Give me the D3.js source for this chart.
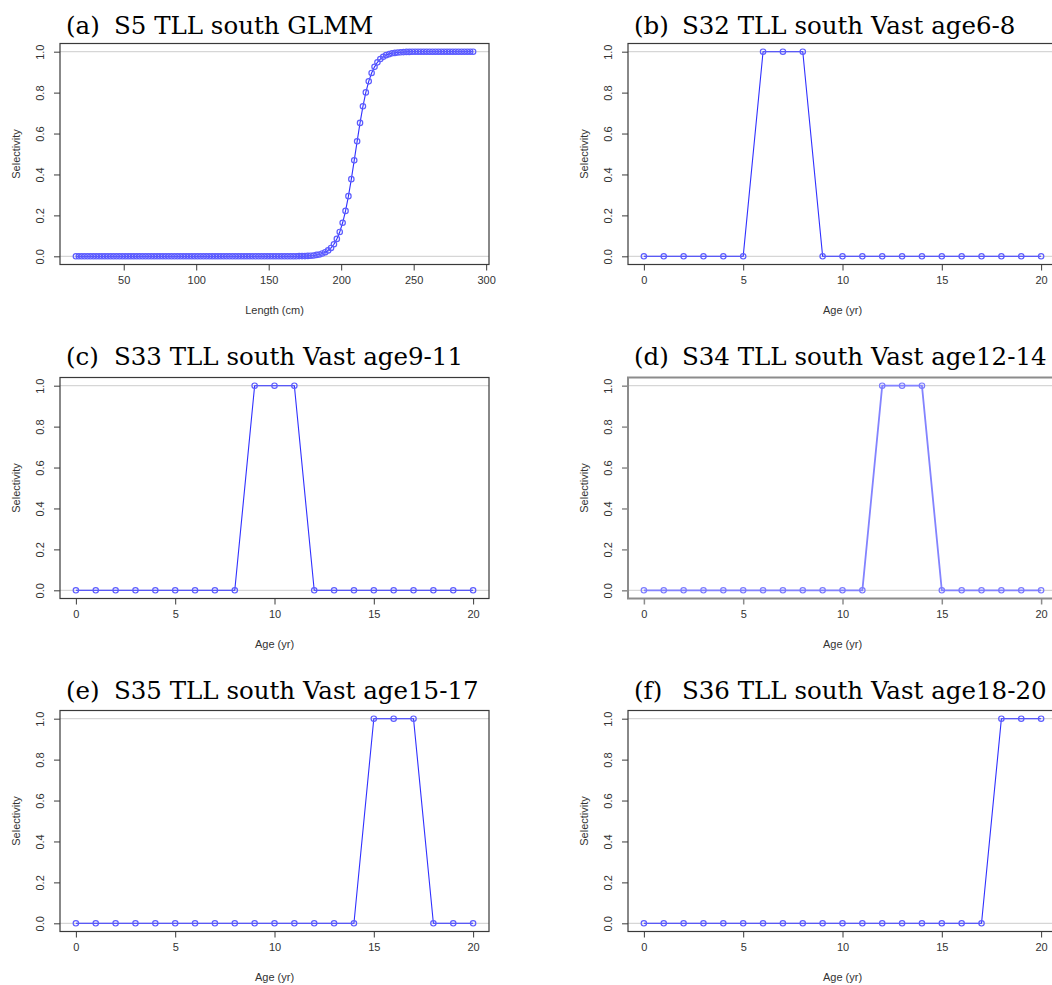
<html lang="en">

<head>
  <meta http-equiv="Content-Type" content="text/html; charset=utf-8" />
  <script src="https://d3js.org/d3.v7.min.js"></script>
  <style>
    body { margin: 0; background: #fff; }
    svg { display: block; }
  </style>
</head>

<body>
  <div id="divId"></div>

  <script>
    // ---------------- data ----------------
    // panel (a): length classes (cm) and GLMM selectivity
    const lengths = [
      17, 19, 21, 23, 25, 27, 29, 31, 33, 35, 37, 39, 41, 43, 45, 47, 49, 51, 53, 55,
      57, 59, 61, 63, 65, 67, 69, 71, 73, 75, 77, 79, 81, 83, 85, 87, 89, 91, 93, 95,
      97, 99, 101, 103, 105, 107, 109, 111, 113, 115, 117, 119, 121, 123, 125, 127, 129, 131, 133, 135,
      137, 139, 141, 143, 145, 147, 149, 151, 153, 155, 157, 159, 161, 163, 165, 167, 169, 171, 173, 175,
      177, 179, 181, 183, 185, 187, 189, 191, 193, 195, 197, 199, 201, 203, 205, 207, 209, 211, 213, 215,
      217, 219, 221, 223, 225, 227, 229, 231, 233, 235, 237, 239, 241, 243, 245, 247, 249, 251, 253, 255,
      257, 259, 261, 263, 265, 267, 269, 271, 273, 275, 277, 279, 281, 283, 285, 287, 289, 291
    ];
    const selS5 = [
      0, 0, 0, 0, 0, 0, 0, 0, 0, 0, 0, 0, 0, 0, 0, 0, 0, 0, 0, 0,
      0, 0, 0, 0, 0, 0, 0, 0, 0, 0, 0, 0, 0, 0, 0, 0, 0, 0, 0, 0,
      0, 0, 0, 0, 0, 0, 0, 0, 0, 0, 0, 0, 0, 0, 0, 0, 0, 0, 0, 0,
      0, 0, 0, 0, 0, 0, 0, 0, 0, 0, 0, 0, 0, 0, 0, 0, 0, 0.001, 0.001, 0.001,
      0.002, 0.003, 0.004, 0.007, 0.009, 0.014, 0.020, 0.029, 0.041, 0.059, 0.085, 0.119, 0.164, 0.222, 0.294, 0.377, 0.469, 0.562, 0.652, 0.733,
      0.801, 0.855, 0.896, 0.926, 0.948, 0.964, 0.975, 0.983, 0.988, 0.992, 0.994, 0.996, 0.997, 0.998, 0.999, 0.999, 1, 1, 1, 1,
      1, 1, 1, 1, 1, 1, 1, 1, 1, 1, 1, 1, 1, 1, 1, 1, 1, 1
    ];

    // panels (b)-(f): ages (yr) and VAST selectivity
    const ages = [0, 1, 2, 3, 4, 5, 6, 7, 8, 9, 10, 11, 12, 13, 14, 15, 16, 17, 18, 19, 20];
    const selS32 = [0, 0, 0, 0, 0, 0, 1, 1, 1, 0, 0, 0, 0, 0, 0, 0, 0, 0, 0, 0, 0];
    const selS33 = [0, 0, 0, 0, 0, 0, 0, 0, 0, 1, 1, 1, 0, 0, 0, 0, 0, 0, 0, 0, 0];
    const selS34 = [0, 0, 0, 0, 0, 0, 0, 0, 0, 0, 0, 0, 1, 1, 1, 0, 0, 0, 0, 0, 0];
    const selS35 = [0, 0, 0, 0, 0, 0, 0, 0, 0, 0, 0, 0, 0, 0, 0, 1, 1, 1, 0, 0, 0];
    const selS36 = [0, 0, 0, 0, 0, 0, 0, 0, 0, 0, 0, 0, 0, 0, 0, 0, 0, 0, 1, 1, 1];

    const panelLabels = ["(a)", "(b)", "(c)", "(d)", "(e)", "(f)"];
    const panelTitles = [
      "S5 TLL south GLMM",
      "S32 TLL south Vast age6-8",
      "S33 TLL south Vast age9-11",
      "S34 TLL south Vast age12-14",
      "S35 TLL south Vast age15-17",
      "S36 TLL south Vast age18-20"
    ];
    const lengthTicks = [50, 100, 150, 200, 250, 300];
    const ageTicks = [0, 5, 10, 15, 20];
    const yTicks = [0, 0.2, 0.4, 0.6, 0.8, 1.0];

    // ---------------- layout ----------------
    const svg_width = 1052;
    const svg_height = 985;
    const colLeft = [60, 628];
    const boxW = 429;
    const rowTop = [43.5, 377.5, 710.5];
    const boxH = 221;
    const titleBase = [34, 365, 699];
    const pad = 0.04; // R's default axis extension

    const panels = [
      { xs: lengths, ys: selS5, xTicks: lengthTicks, xlab: "Length (cm)" },
      { xs: ages, ys: selS32, xTicks: ageTicks, xlab: "Age (yr)" },
      { xs: ages, ys: selS33, xTicks: ageTicks, xlab: "Age (yr)" },
      { xs: ages, ys: selS34, xTicks: ageTicks, xlab: "Age (yr)", faded: true },
      { xs: ages, ys: selS35, xTicks: ageTicks, xlab: "Age (yr)" },
      { xs: ages, ys: selS36, xTicks: ageTicks, xlab: "Age (yr)" }
    ];

    const svg = d3.select("#divId")
      .append("svg")
      .attr("width", svg_width)
      .attr("height", svg_height);

    panels.forEach((pnl, i) => {
      const row = Math.floor(i / 2);
      const col = i % 2;
      const left = colLeft[col];
      const top = rowTop[row];

      const boxColor = pnl.faded ? "#8c8c8c" : "#3a3a3a";
      const boxStroke = pnl.faded ? 2 : 1.2;
      const lineColor = pnl.faded ? "#8383ff" : "#3030ff";
      const ptColor = pnl.faded ? "#7a7aff" : "#5c5cff";
      const lineWidth = pnl.faded ? 1.8 : 1.1;

      // title
      svg.append("text")
        .attr("x", left + 6)
        .attr("y", titleBase[row])
        .attr("font-family", "'DejaVu Serif', 'Liberation Serif', serif")
        .attr("font-size", 24.5)
        .attr("fill", "#000")
        .text(panelLabels[i])
        .append("tspan")
        .attr("x", left + 54)
        .text(panelTitles[i]);

      const g = svg.append("g")
        .attr("transform", `translate(${left}, ${top})`);

      // scales with 4% extension like R
      const [x0, x1] = d3.extent(pnl.xs);
      const dx = (x1 - x0) * pad;
      const x = d3.scaleLinear().domain([x0 - dx, x1 + dx]).range([0, boxW]);
      const y = d3.scaleLinear().domain([-pad, 1 + pad]).range([boxH, 0]);

      // reference lines at 0 and 1
      g.selectAll("line.ref")
        .data([0, 1])
        .join("line")
        .attr("class", "ref")
        .attr("x1", 0)
        .attr("x2", boxW)
        .attr("y1", d => y(d))
        .attr("y2", d => y(d))
        .attr("stroke", "#d6d6d6")
        .attr("stroke-width", 1.2);

      // x axis
      g.append("g")
        .attr("transform", `translate(0, ${boxH})`)
        .call(d3.axisBottom(x).tickValues(pnl.xTicks).tickSize(6).tickPadding(6).tickFormat(d3.format("d")))
        .call(a => a.select(".domain").remove())
        .call(a => a.selectAll("line").attr("stroke", boxColor).attr("stroke-width", pnl.faded ? 1.5 : 1))
        .call(a => a.selectAll("text")
          .attr("font-family", "'Liberation Sans', Arial, sans-serif")
          .attr("font-size", 11)
          .attr("fill", "#333"));

      // y axis, labels parallel to axis
      g.append("g")
        .call(d3.axisLeft(y).tickValues(yTicks).tickSize(6).tickFormat(d3.format(".1f")))
        .call(a => a.select(".domain").remove())
        .call(a => a.selectAll("line").attr("stroke", boxColor).attr("stroke-width", pnl.faded ? 1.5 : 1))
        .call(a => a.selectAll("text")
          .attr("font-family", "'Liberation Sans', Arial, sans-serif")
          .attr("font-size", 11)
          .attr("fill", "#333")
          .attr("x", null)
          .attr("dy", null)
          .attr("text-anchor", "middle")
          .attr("transform", "translate(-16, 0) rotate(-90)"));

      // axis titles
      g.append("text")
        .attr("x", boxW / 2)
        .attr("y", boxH + 49.5)
        .attr("text-anchor", "middle")
        .attr("font-family", "'Liberation Sans', Arial, sans-serif")
        .attr("font-size", 11)
        .attr("fill", "#333")
        .text(pnl.xlab);

      g.append("text")
        .attr("transform", `translate(-40, ${boxH / 2}) rotate(-90)`)
        .attr("text-anchor", "middle")
        .attr("font-family", "'Liberation Sans', Arial, sans-serif")
        .attr("font-size", 11)
        .attr("fill", "#333")
        .text("Selectivity");

      const pts = pnl.xs.map((v, k) => ({ x: v, y: pnl.ys[k] }));

      // line
      g.append("path")
        .datum(pts)
        .attr("fill", "none")
        .attr("stroke", lineColor)
        .attr("stroke-width", lineWidth)
        .attr("d", d3.line().x(d => x(d.x)).y(d => y(d.y)));

      // open circles
      g.selectAll("circle")
        .data(pts)
        .join("circle")
        .attr("cx", d => x(d.x))
        .attr("cy", d => y(d.y))
        .attr("r", 2.7)
        .attr("fill", "none")
        .attr("stroke", ptColor)
        .attr("stroke-width", 1.2);

      // plot box
      g.append("rect")
        .attr("x", 0)
        .attr("y", 0)
        .attr("width", boxW)
        .attr("height", boxH)
        .attr("fill", "none")
        .attr("stroke", boxColor)
        .attr("stroke-width", boxStroke);
    });
  </script>
</body>

</html>
